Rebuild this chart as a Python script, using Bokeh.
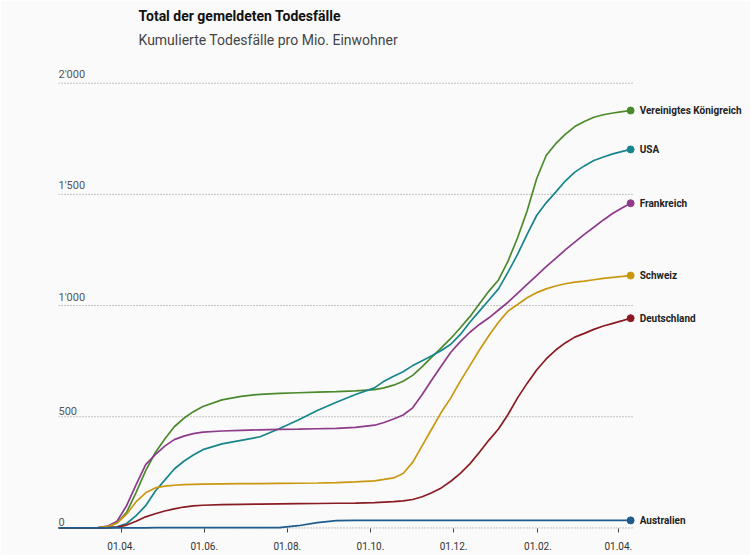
import pandas as pd
from bokeh.plotting import figure
from bokeh.models import Range1d, FixedTicker, Title
from bokeh.embed import file_html
from bokeh.resources import INLINE
from bokeh.core.properties import value

# ---- data (cumulative deaths per million inhabitants) ----
dates = [
    "2020-02-15", "2020-03-01", "2020-03-15", "2020-03-22", "2020-03-29", "2020-04-05",
    "2020-04-12", "2020-04-19", "2020-04-26", "2020-05-03", "2020-05-10", "2020-05-17",
    "2020-05-24", "2020-05-31", "2020-06-14", "2020-06-28", "2020-07-12", "2020-07-26",
    "2020-08-09", "2020-08-23", "2020-09-06", "2020-09-20", "2020-10-04", "2020-10-11",
    "2020-10-18", "2020-10-25", "2020-11-01", "2020-11-08", "2020-11-15", "2020-11-22",
    "2020-11-29", "2020-12-06", "2020-12-13", "2020-12-20", "2020-12-27", "2021-01-03",
    "2021-01-10", "2021-01-17", "2021-01-24", "2021-01-31", "2021-02-07", "2021-02-14",
    "2021-02-21", "2021-02-28", "2021-03-07", "2021-03-14", "2021-03-21", "2021-03-28",
    "2021-04-04", "2021-04-10",
]
uk = [0, 0, 1, 4, 22, 70, 160, 258, 338, 400, 455, 493, 523, 546, 576, 592, 601, 605,
      608, 611, 613, 616, 622, 630, 642, 660, 686, 725, 768, 810, 852, 900, 950, 1008,
      1065, 1115, 1200, 1305, 1425, 1570, 1675, 1728, 1770, 1805, 1828, 1847, 1858, 1866,
      1872, 1877]
usa = [0, 0, 0, 0, 5, 20, 55, 100, 165, 215, 265, 300, 328, 352, 378, 394, 410, 446,
       485, 528, 565, 600, 630, 660, 682, 702, 730, 752, 774, 798, 826, 870, 925, 975,
       1025, 1075, 1150, 1230, 1320, 1405, 1462, 1510, 1560, 1600, 1628, 1652, 1668, 1682,
       1693, 1702]
frankreich = [0, 0, 2, 8, 30, 100, 195, 285, 330, 368, 397, 413, 424, 431, 436, 439, 441, 443,
              444, 446, 448, 452, 462, 474, 490, 508, 540, 600, 665, 728, 790, 838, 880, 915,
              945, 980, 1015, 1055, 1095, 1135, 1175, 1212, 1250, 1285, 1320, 1352, 1385, 1415,
              1440, 1460]
schweiz = [0, 0, 1, 6, 22, 62, 118, 158, 180, 188, 192, 195, 196, 197, 198, 199, 199, 200,
           201, 202, 204, 207, 212, 218, 225, 245, 295, 370, 445, 520, 585, 660, 730, 800,
           865, 925, 975, 1005, 1035, 1058, 1075, 1088, 1098, 1105, 1110, 1116, 1122, 1127,
           1131, 1135]
deutschland = [0, 0, 0, 1, 4, 13, 30, 50, 64, 76, 86, 94, 99, 102, 105, 106, 107, 108,
               109, 110, 111, 112, 114, 116, 118, 122, 128, 140, 158, 180, 210, 245, 288, 340,
               395, 445, 510, 585, 650, 710, 760, 800, 832, 858, 875, 893, 908, 920,
               932, 943]
australien = [0, 0, 0, 0, 0, 0, 0, 0, 1, 1, 1, 1, 1, 1, 1, 1, 1, 1,
              10, 24, 33, 34, 34, 34, 34, 34, 34, 34, 34, 34, 34, 34, 34, 34,
              34, 34, 34, 34, 34, 34, 34, 34, 34, 34, 34, 34, 34, 34,
              34, 34]

names = ["Vereinigtes Königreich", "USA", "Frankreich", "Schweiz", "Deutschland", "Australien"]
series = [uk, usa, frankreich, schweiz, deutschland, australien]
colors = ["#4b8a2c", "#16858c", "#8d3a8b", "#c9980f", "#8b1b22", "#1d5c8c"]

y_ticks = [0, 500, 1000, 1500, 2000]
y_labels = ["0", "500", "1'000", "1'500", "2'000"]
x_tick_dates = ["2020-04-01", "2020-06-01", "2020-08-01", "2020-10-01", "2020-12-01",
                "2021-02-01", "2021-04-01"]
x_tick_labels = ["01.04.", "01.06.", "01.08.", "01.10.", "01.12.", "01.02.", "01.04."]

title_text = "Total der gemeldeten Todesfälle"
subtitle_text = "Kumulierte Todesfälle pro Mio. Einwohner"

# ---- figure ----
bg = "#fafafa"
FONT = "Roboto"
x = pd.to_datetime(dates)
x_start = pd.Timestamp("2020-02-15")
x_end = pd.Timestamp("2021-07-07")
grid_end = pd.Timestamp("2021-04-12")

p = figure(width=750, height=555, x_axis_type="datetime", y_axis_location=None,
           output_backend="svg", toolbar_location=None,
           x_range=Range1d(x_start, x_end), y_range=Range1d(-34, 2066),
           min_border_left=58, min_border_right=0, min_border_top=68, min_border_bottom=20,
           background_fill_color=bg, border_fill_color=bg, outline_line_color=None)
p.xgrid.visible = False
p.ygrid.visible = False

# titles (a blank spacer title keeps the gap between subtitle and plot area)
p.add_layout(Title(text=" ", text_font=FONT, text_font_size="5px", offset=80,
                   standoff=10), "above")
p.add_layout(Title(text=subtitle_text, text_font=FONT, text_font_size="14px",
                   text_font_style="normal", text_color="#444444", offset=80,
                   standoff=6), "above")
p.add_layout(Title(text=title_text, text_font=FONT, text_font_size="14px",
                   text_font_style="bold", text_color="#111111", offset=80,
                   standoff=6), "above")

# dotted gridlines
p.segment(x0=[x_start] * len(y_ticks), x1=[grid_end] * len(y_ticks), y0=y_ticks, y1=y_ticks,
          line_color="#8c8c8c", line_width=1, line_dash="1 2")
p.text(x=[x_start] * len(y_ticks), y=y_ticks, text=y_labels, text_align="left",
       text_baseline="bottom", y_offset=-2, text_font=value(FONT), text_font_size="11px",
       text_color="#555555")

# x axis
tick_ms = [pd.Timestamp(d).value // 10**6 for d in x_tick_dates]
ax = p.xaxis[0]
ax.ticker = FixedTicker(ticks=tick_ms)
ax.major_label_overrides = {t: l for t, l in zip(tick_ms, x_tick_labels)}
ax.axis_line_color = None
ax.major_tick_line_color = "#444444"
ax.major_tick_in = 7
ax.major_tick_out = -3
ax.minor_tick_line_color = None
ax.major_label_standoff = 6
ax.major_label_text_font = FONT
ax.major_label_text_font_size = "10px"
ax.major_label_text_color = "#333333"

# lines, end dots, labels
for name, vals, col in zip(names, series, colors):
    p.line(x, vals, line_color=col, line_width=1.7)
    p.scatter([x[-1]], [vals[-1]], size=7, fill_color=col, line_color=col)
    p.text(x=[x[-1]], y=[vals[-1]], text=[name], x_offset=9, text_baseline="middle",
           text_font=value(FONT), text_font_size="10px", text_font_style="bold",
           text_color="#222222")

open("out.html", "w").write(file_html(p, INLINE))
